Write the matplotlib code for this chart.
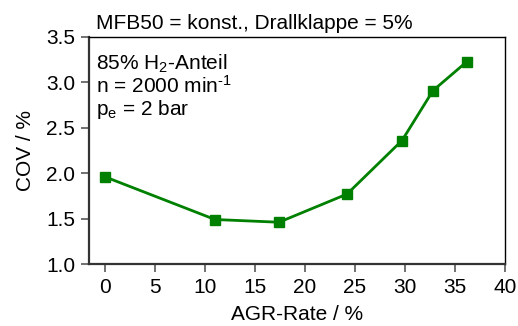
import matplotlib
matplotlib.use("Agg")
import matplotlib.pyplot as plt

plt.rcParams['font.family'] = ['Liberation Sans', 'DejaVu Sans']
plt.rcParams['mathtext.fontset'] = 'custom'
plt.rcParams['mathtext.rm'] = 'Liberation Sans'
plt.rcParams['mathtext.it'] = 'Liberation Sans'

# data
agr_rate = [0.0, 11.0, 17.4, 24.2, 29.7, 32.8, 36.2]
cov = [1.96, 1.49, 1.46, 1.77, 2.36, 2.91, 3.23]
xticks = [0, 5, 10, 15, 20, 25, 30, 35, 40]
yticks = [1.0, 1.5, 2.0, 2.5, 3.0, 3.5]

green = '#008000'
fs = 15

fig = plt.figure(figsize=(5.18, 3.26), dpi=100)
ax = fig.add_axes([89/518, 1 - 264/326, 416/518, 227/326])

ax.plot(agr_rate, cov, color=green, lw=2, marker='s', ms=7, mec=green, mfc=green)

ax.set_xlim(-1.6, 40)
ax.set_ylim(1.0, 3.5)
ax.set_xticks(xticks)
ax.set_yticks(yticks)
ax.set_yticklabels(['%.1f' % v for v in yticks])

for s in ['left', 'bottom']:
    ax.spines[s].set_linewidth(1.6)
    ax.spines[s].set_color('#333333')
for s in ['top', 'right']:
    ax.spines[s].set_linewidth(1.0)
    ax.spines[s].set_color('black')

ax.tick_params(direction='out', length=6, width=1.3, color='#666666',
               labelsize=fs, pad=4)

ax.set_xlabel('AGR-Rate / %', fontsize=fs, labelpad=6)
ax.set_ylabel('COV / %', fontsize=fs, labelpad=8)
ax.set_title('MFB50 = konst., Drallklappe = 5%', fontsize=fs, loc='left',
             pad=6, x=0.017)

ax.text(0.017, 0.932, '85% H$_2$-Anteil\nn = 2000 min$^{\\text{-1}}$\np$_e$ = 2 bar',
        transform=ax.transAxes, fontsize=fs, va='top', ha='left',
        linespacing=1.03)

fig.savefig('out.png', dpi=100)
